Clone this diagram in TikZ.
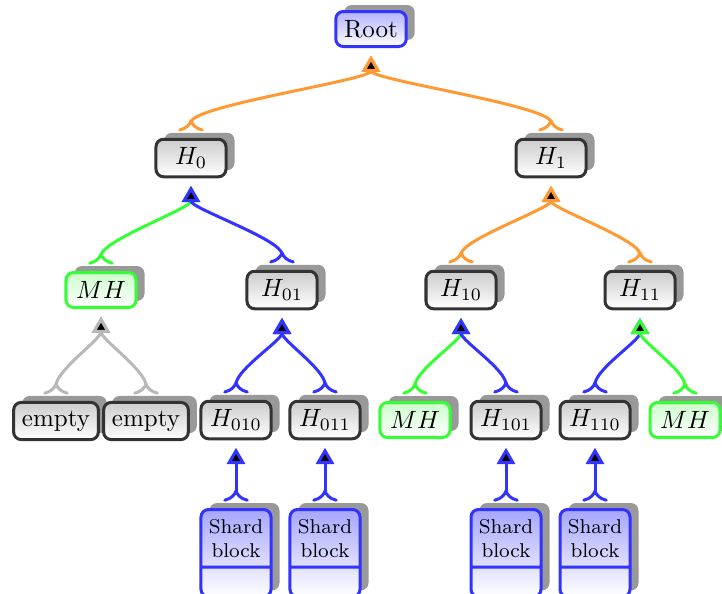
\documentclass[tikz,border=0pt]{standalone}
\usepackage{amsmath}
\usetikzlibrary{shapes.multipart,arrows.meta,shadows}

\begin{document}
\begin{tikzpicture}[x=0.4pt, y=0.4pt, very thick]
        \tikzstyle{hbox} = [rectangle, draw=black!80, rounded corners=3pt, top color=black!20, bottom color=white, minimum width=28pt, minimum height=14pt, drop shadow={shadow xshift=3.4pt, shadow yshift=2.6pt, fill=black!40, opacity=1}]
        \tikzstyle{rootbox} = [hbox, draw=blue!80, top color=blue!30]
        \tikzstyle{mhbox} = [hbox, draw=green!80, top color=green!20]
        \tikzstyle{shard} = [hbox, draw=blue!80, top color=blue!35, rectangle split, rectangle split parts=2, font=\footnotesize, align=center, inner xsep=2pt, anchor=north]
        \tikzstyle{link} = [line width=1.2pt, {To[reversed, scale=1.15]}-{Triangle[fill=black, length=6.5pt, width=7.2pt]}, shorten <=2.5pt, shorten >=3pt]
        \tikzstyle{orangelink} = [link, orange!80]
        \tikzstyle{bluelink} = [link, blue!80]
        \tikzstyle{greenlink} = [link, green!80]
        \tikzstyle{graylink} = [link, black!28]

        \useasboundingbox (0,0) rectangle (722,-594);

        \node [rootbox] (root) at (371,-29) {Root};
        \node [hbox] (h0) at (191,-158) {$H_0$};
        \node [hbox] (h1) at (551,-158) {$H_1$};
        \node [mhbox] (mh0) at (101,-290) {$MH$};
        \node [hbox] (h01) at (282,-290) {$H_{01}$};
        \node [hbox] (h10) at (461,-290) {$H_{10}$};
        \node [hbox] (h11) at (640,-290) {$H_{11}$};
        \node [hbox] (empty0) at (56,-421) {empty};
        \node [hbox] (empty1) at (146,-421) {empty};
        \node [hbox] (h010) at (236,-420) {$H_{010}$};
        \node [hbox] (h011) at (325,-420) {$H_{011}$};
        \node [mhbox] (mh10) at (415,-420) {$MH$};
        \node [hbox] (h101) at (506,-420) {$H_{101}$};
        \node [hbox] (h110) at (595,-420) {$H_{110}$};
        \node [mhbox] (mh11) at (685,-420) {$MH$};

        \node [shard] (s010) at (236,-508) {Shard\\block \nodepart{two} \rule{0pt}{4pt}};
        \node [shard] (s011) at (325,-508) {Shard\\block \nodepart{two} \rule{0pt}{4pt}};
        \node [shard] (s101) at (506,-508) {Shard\\block \nodepart{two} \rule{0pt}{4pt}};
        \node [shard] (s110) at (595,-508) {Shard\\block \nodepart{two} \rule{0pt}{4pt}};

        % hashes up to the root
        \draw [orangelink] (h0.north) .. controls +(0,32) and +(0,-32) .. (root.south);
        \draw [orangelink] (h1.north) .. controls +(0,32) and +(0,-32) .. (root.south);
        \draw [greenlink] (mh0.north) .. controls +(0,30) and +(0,-30) .. (h0.south);
        \draw [bluelink] (h01.north) .. controls +(0,30) and +(0,-30) .. (h0.south);
        \draw [orangelink] (h10.north) .. controls +(0,30) and +(0,-30) .. (h1.south);
        \draw [orangelink] (h11.north) .. controls +(0,30) and +(0,-30) .. (h1.south);
        \draw [graylink] (empty0.north) .. controls +(0,30) and +(0,-30) .. (mh0.south);
        \draw [graylink] (empty1.north) .. controls +(0,30) and +(0,-30) .. (mh0.south);
        \draw [bluelink] (h010.north) .. controls +(0,30) and +(0,-30) .. (h01.south);
        \draw [bluelink] (h011.north) .. controls +(0,30) and +(0,-30) .. (h01.south);
        \draw [greenlink] (mh10.north) .. controls +(0,30) and +(0,-30) .. (h10.south);
        \draw [bluelink] (h101.north) .. controls +(0,30) and +(0,-30) .. (h10.south);
        \draw [bluelink] (h110.north) .. controls +(0,30) and +(0,-30) .. (h11.south);
        \draw [greenlink] (mh11.north) .. controls +(0,30) and +(0,-30) .. (h11.south);

        % shard blocks
        \draw [bluelink] (s010) -- (h010);
        \draw [bluelink] (s011) -- (h011);
        \draw [bluelink] (s101) -- (h101);
        \draw [bluelink] (s110) -- (h110);
\end{tikzpicture}
\end{document}
